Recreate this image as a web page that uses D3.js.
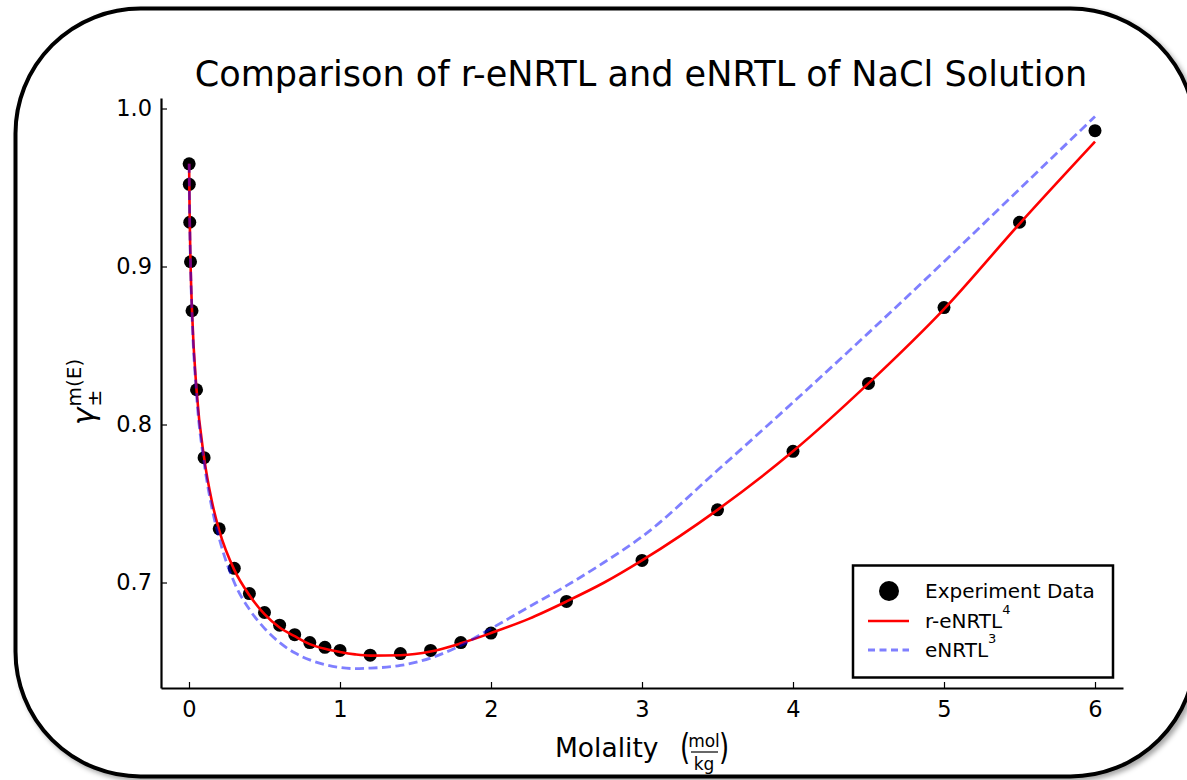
<!DOCTYPE html>
<html>
<head>
<meta charset="utf-8">
<script src="https://cdn.jsdelivr.net/npm/d3@7"></script>
<style>
  html, body { margin: 0; padding: 0; background: #ffffff; }
  svg { display: block; }
  text { font-family: "DejaVu Sans", sans-serif; fill: #000; }
</style>
</head>
<body>
<svg id="chart" width="1187" height="780"></svg>
<script>
// ---- Data ----
const molality = [0.001, 0.002, 0.005, 0.01, 0.02, 0.05, 0.1, 0.2, 0.3, 0.4, 0.5, 0.6, 0.7, 0.8, 0.9, 1.0,
  1.2, 1.4, 1.6, 1.8, 2.0, 2.5, 3.0, 3.5, 4.0, 4.5, 5.0, 5.5, 6.0];
const gammaExp = [0.965, 0.952, 0.928, 0.903, 0.872, 0.822, 0.779, 0.734, 0.709, 0.693, 0.681, 0.673, 0.667, 0.662, 0.659, 0.657,
  0.654, 0.655, 0.657, 0.662, 0.668, 0.688, 0.714, 0.746, 0.783, 0.826, 0.874, 0.928, 0.986];

const modelM = [0.001, 0.002, 0.005, 0.01, 0.02, 0.05, 0.1, 0.15, 0.2, 0.3, 0.4, 0.5, 0.6, 0.7, 0.8, 0.9, 1.0, 1.1, 1.2,
  1.4, 1.6, 1.8, 2.0, 2.25, 2.5, 2.75, 3.0, 3.5, 4.0, 4.5, 5.0, 5.5, 6.0];
const rENRTL = [0.965, 0.952, 0.928, 0.903, 0.872, 0.822, 0.779, 0.752, 0.733, 0.708, 0.692, 0.680, 0.6715, 0.666, 0.661, 0.658, 0.656, 0.6545, 0.6537,
  0.654, 0.6563, 0.6615, 0.668, 0.677, 0.688, 0.700, 0.714, 0.746, 0.783, 0.826, 0.873, 0.927, 0.979];
const eNRTL = [0.965, 0.951, 0.927, 0.902, 0.870, 0.819, 0.776, 0.748, 0.728, 0.700, 0.683, 0.671, 0.662, 0.6555, 0.651, 0.648, 0.6462, 0.6455, 0.6458,
  0.6475, 0.6522, 0.6602, 0.6708, 0.6845, 0.698, 0.7128, 0.729, 0.771, 0.814, 0.858, 0.903, 0.949, 0.995];

const xTicks = [0, 1, 2, 3, 4, 5, 6];
const yTicks = [0.7, 0.8, 0.9, 1.0];

const titleText = "Comparison of r-eNRTL and eNRTL of NaCl Solution";
const legendLabels = ["Experiment Data", "r-eNRTL", "eNRTL"];
const legendSups = ["", "4", "3"];

// ---- Layout ----
const svg = d3.select("#chart");
const plot = { left: 161, right: 1123, top: 98, bottom: 688 };

const x = d3.scaleLinear().domain([-0.1854, 6.1854]).range([plot.left, plot.right]);
const y = d3.scaleLinear().domain([0.63323, 1.00665]).range([plot.bottom, plot.top]);

// Shadow filter
const defs = svg.append("defs");
const f = defs.append("filter").attr("id", "shadow").attr("x", "-5%").attr("y", "-5%").attr("width", "110%").attr("height", "110%");
f.append("feDropShadow").attr("dx", 3).attr("dy", 3).attr("stdDeviation", 2.5).attr("flood-color", "#000").attr("flood-opacity", 0.35);

// Rounded frame
svg.append("rect")
  .attr("x", 15.5).attr("y", 8.5).attr("width", 1180).attr("height", 768)
  .attr("rx", 125).attr("ry", 125)
  .attr("fill", "#fff").attr("stroke", "#000").attr("stroke-width", 4)
  .attr("filter", "url(#shadow)");

// Title
const title = svg.append("text")
  .attr("x", 641).attr("y", 86)
  .attr("text-anchor", "middle")
  .style("font-size", "32px")
  .text(titleText);
{
  const len = title.node().getComputedTextLength();
  title.style("font-size", (32 * 893 / len) + "px");
}

// Axes
const gx = svg.append("g").attr("transform", `translate(0,${plot.bottom})`)
  .call(d3.axisBottom(x).tickValues(xTicks).tickFormat(d3.format("d")).tickSizeInner(-6).tickSizeOuter(0).tickPadding(12));
gx.select(".domain").attr("stroke-width", 2.2);
gx.selectAll(".tick line").attr("stroke-width", 1.2);
gx.selectAll(".tick text").style("font-size", "22.5px").attr("font-family", "DejaVu Sans").attr("dy", "0.71em").attr("y", 13);

const gy = svg.append("g").attr("transform", `translate(${plot.left},0)`)
  .call(d3.axisLeft(y).tickValues(yTicks).tickFormat(d3.format(".1f")).tickSizeInner(-6).tickSizeOuter(0).tickPadding(9));
gy.select(".domain").attr("stroke-width", 2.2);
gy.selectAll(".tick line").attr("stroke-width", 1.2);
gy.selectAll(".tick text").style("font-size", "22.5px").attr("font-family", "DejaVu Sans").attr("x", -9);

// Data points
svg.append("g").selectAll("circle")
  .data(molality.map((m, i) => [m, gammaExp[i]]))
  .join("circle")
  .attr("cx", d => x(d[0])).attr("cy", d => y(d[1]))
  .attr("r", 6.5).attr("fill", "#000");

// Model curves
const line = d3.line().x(d => x(d[0])).y(d => y(d[1])).curve(d3.curveMonotoneX);
svg.append("path")
  .datum(modelM.map((m, i) => [m, rENRTL[i]]))
  .attr("d", line).attr("fill", "none").attr("stroke", "#ff0000").attr("stroke-width", 2.6);
svg.append("path")
  .datum(modelM.map((m, i) => [m, eNRTL[i]]))
  .attr("d", line).attr("fill", "none").attr("stroke", "#0000ff").attr("stroke-opacity", 0.5)
  .attr("stroke-width", 2.8).attr("stroke-dasharray", "9,4.5");

// Legend
const lg = svg.append("g");
lg.append("rect").attr("x", 853).attr("y", 565.5).attr("width", 260).attr("height", 112)
  .attr("fill", "#fff").attr("stroke", "#000").attr("stroke-width", 2.5);
const rowY = [591, 621, 650];
lg.append("circle").attr("cx", 889).attr("cy", rowY[0]).attr("r", 10).attr("fill", "#000");
lg.append("line").attr("x1", 868).attr("x2", 909).attr("y1", rowY[1]).attr("y2", rowY[1])
  .attr("stroke", "#ff0000").attr("stroke-width", 2.6);
lg.append("line").attr("x1", 868).attr("x2", 909).attr("y1", rowY[2]).attr("y2", rowY[2])
  .attr("stroke", "#0000ff").attr("stroke-opacity", 0.5).attr("stroke-width", 2.8).attr("stroke-dasharray", "7,4.5");
legendLabels.forEach((lab, i) => {
  const t = lg.append("text").attr("x", 925).attr("y", rowY[i] + 7).style("font-size", "20px").text(lab);
  if (legendSups[i]) {
    const w = t.node().getComputedTextLength();
    lg.append("text").attr("x", 925 + w).attr("y", rowY[i] - 7)
      .style("font-size", "13px").text(legendSups[i]);
  }
});

// X label: Molality (mol/kg)
const xl = svg.append("g");
xl.append("text").attr("x", 555).attr("y", 757).style("font-size", "26.5px").text("Molality");
xl.append("text").attr("x", 685).attr("y", 757).attr("text-anchor", "middle").style("font-size", "26px")
  .attr("transform", "translate(0,752) scale(1,1.35) translate(0,-752)").text("(");
xl.append("text").attr("x", 704).attr("y", 747).attr("text-anchor", "middle").style("font-size", "17px").text("mol");
xl.append("line").attr("x1", 691).attr("x2", 718).attr("y1", 752).attr("y2", 752).attr("stroke", "#000").attr("stroke-width", 1.2);
xl.append("text").attr("x", 704).attr("y", 770).attr("text-anchor", "middle").style("font-size", "17px").text("kg");
xl.append("text").attr("x", 724).attr("y", 757).attr("text-anchor", "middle").style("font-size", "26px")
  .attr("transform", "translate(0,752) scale(1,1.35) translate(0,-752)").text(")");

// Y label: gamma^{m(E)}_{±}
const yl = svg.append("g");
const ylInner = yl.append("g");
const gam = ylInner.append("text").attr("x", 0).attr("y", 0).style("font-size", "30px").style("font-style", "italic").text("γ");
const gw = gam.node().getComputedTextLength();
const sup = ylInner.append("text").attr("x", gw + 1).attr("y", -13).style("font-size", "20px").text("m(E)");
ylInner.append("text").attr("x", gw + 1).attr("y", 7).style("font-size", "20px").text("±");
const total = gw + 1 + sup.node().getComputedTextLength();
ylInner.attr("transform", `translate(${-total / 2},0)`);
yl.attr("transform", "translate(94,392) rotate(-90)");
</script>
</body>
</html>
